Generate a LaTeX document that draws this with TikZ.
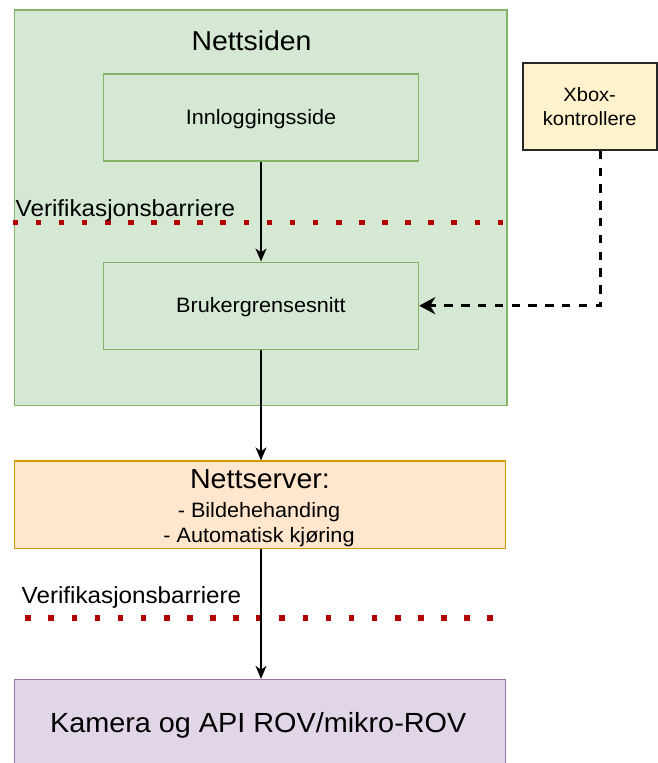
\documentclass[tikz,border=0pt]{standalone}
\usepackage{fontspec}
\setmainfont{Liberation Sans}[FakeStretch=1.04]
\usetikzlibrary{arrows.meta}
\definecolor{greenfill}{HTML}{D5E8D4}
\definecolor{greenline}{HTML}{82B366}
\definecolor{orangefill}{HTML}{FFE6CC}
\definecolor{orangeline}{HTML}{D79B00}
\definecolor{yellowfill}{HTML}{FFF2CC}
\definecolor{purplefill}{HTML}{E1D5E7}
\definecolor{purpleline}{HTML}{9673A6}
\definecolor{barrierred}{HTML}{B20000}
\tikzset{
  box/.style={rectangle, inner sep=0pt, line width=1.4pt},
  greenbox/.style={box, draw=greenline, fill=greenfill},
  innerbox/.style={greenbox, minimum width=315pt, minimum height=87pt,
     font=\fontsize{20.8}{25}\selectfont, text height=18.8pt, text depth=4.4pt},
  serverbox/.style={box, draw=orangeline, fill=orangefill},
  camerabox/.style={box, draw=purpleline, fill=purplefill,
     font=\fontsize{27.7}{33}\selectfont, text height=25.1pt, text depth=5.9pt},
  xboxbox/.style={box, draw=black!85, fill=yellowfill, line width=2pt,
     align=center, font=\fontsize{19.3}{24}\selectfont},
  barrier/.style={draw=barrierred, line width=5.6pt, dash pattern=on 5.6pt off 17.5pt},
  barrierlabel/.style={anchor=base west, inner sep=0pt, font=\fontsize{23.3}{28}\selectfont},
  conn/.style={draw=black, line width=1.4pt, -{Stealth[length=13pt, width=11pt, inset=4pt]}},
  dconn/.style={draw=black, line width=2.8pt, dash pattern=on 8.4pt off 8.4pt,
     -{Stealth[length=16pt, width=17pt, inset=5pt]}},
}
\begin{document}
\begin{tikzpicture}[x=1pt, y=-1pt]
\useasboundingbox (0,0) rectangle (657,763);

% Nettsiden container
\node[greenbox, minimum width=492.3pt, minimum height=395.7pt] (site) at (260.8,207.8) {};
\node[anchor=base, inner sep=0pt, font=\fontsize{27.3}{32}\selectfont] (sitetitle) at (251.5,50) {Nettsiden};

% inner boxes
\node[innerbox] (login) at (261,117.5) {Innloggingsside};
\node[innerbox] (ui) at (261,305.7) {Brukergrensesnitt};

% Xbox controller
\node[xboxbox, minimum width=134pt, minimum height=87pt] (xbox) at (589.7,106.3) {Xbox-\\kontrollere};

% web server
\node[serverbox, minimum width=491pt, minimum height=87.3pt] (server) at (260.2,504.7) {};
\node[anchor=base, inner sep=0pt, font=\fontsize{27.5}{32}\selectfont] (servertitle) at (260,488) {Nettserver:};
\node[anchor=base, inner sep=0pt, font=\fontsize{20.8}{25}\selectfont] (serverline1) at (259,517) {- Bildehehanding};
\node[anchor=base, inner sep=0pt, font=\fontsize{20.8}{25}\selectfont] (serverline2) at (259,542) {- Automatisk kjøring};

% camera / API
\node[camerabox, minimum width=491pt, minimum height=87pt] (camera) at (260.2,723) {\hspace*{-4pt}Kamera og API ROV/mikro-ROV};

% verification barriers
\coordinate (b1start) at (12.5,222.5);
\coordinate (b1end) at (505,222.5);
\draw[barrier] (b1start) -- (b1end);
\node[barrierlabel] (b1label) at (15.5,216) {Verifikasjonsbarriere};

\coordinate (b2start) at (25.3,618);
\coordinate (b2end) at (497,618);
\draw[barrier] (b2start) -- (b2end);
\node[barrierlabel] (b2label) at (21.5,603) {Verifikasjonsbarriere};

% connectors
\draw[conn] (login.south) -- (ui.north);
\draw[conn] (ui.south) -- (server.north -| ui.south);
\draw[conn] (server.south -| ui.south) -- (camera.north -| ui.south);
\draw[dconn] ([xshift=10.6pt]xbox.south) |- (ui.east);
\end{tikzpicture}
\end{document}
